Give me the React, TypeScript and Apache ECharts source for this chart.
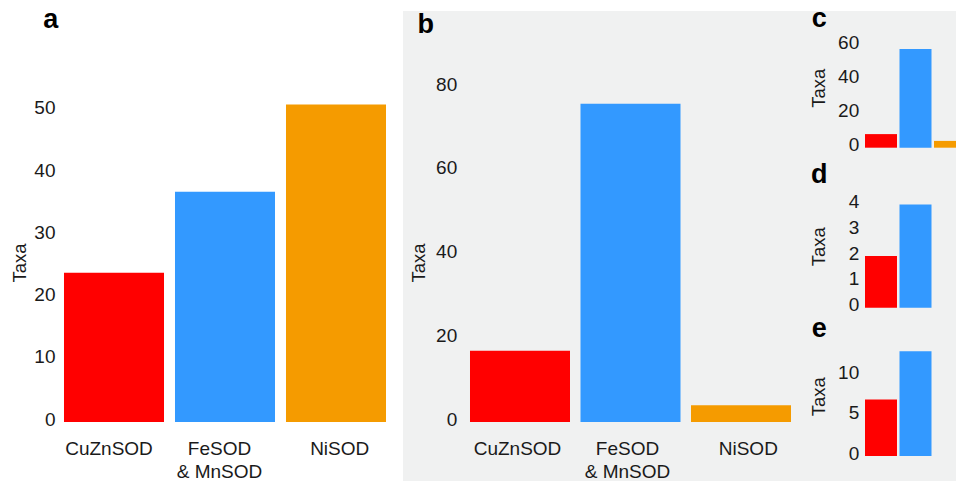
import React, { useEffect, useRef } from "react";
import * as echarts from "echarts";

// ---- data ----
const categories = ["CuZnSOD", "FeSOD\n& MnSOD", "NiSOD"];
const colors = ["#ff0000", "#3399ff", "#f59b00"];
const valuesA = [24, 37, 51];
const valuesB = [17, 76, 4];
const valuesC = [8, 58, 4];
const valuesD = [2, 4, 0];
const valuesE = [7, 13, 0];
const yAxisTitle = "Taxa";
const panelLetters = ["a", "b", "c", "d", "e"];

const FONT = "'Liberation Sans', Arial, Helvetica, sans-serif";
const TXT = "#1a1a1a";
const CHART_W = 990;

function richFor(offs: number[]) {
  const r: any = {};
  offs.forEach((o, i) => {
    r["s" + i] = {
      fontSize: 19,
      fontFamily: FONT,
      color: TXT,
      lineHeight: 23.5,
      padding: o < 0 ? [0, -2 * o, 0, 0] : [0, 0, 0, 2 * o],
    };
  });
  return r;
}

export default function App() {
  const ref = useRef<HTMLDivElement>(null);
  useEffect(() => {
    if (!ref.current) return;
    const chart = echarts.init(ref.current, undefined, { renderer: "svg" });

    const grids = [
      { left: 58.5, width: 333, top: 79.7, bottom: 56.7 },
      { left: 464.75, width: 331.5, top: 66.2, bottom: 57 },
      { left: 863.75, width: 103.5, top: 38.9, bottom: 481 - 147.7 },
      { left: 863.75, width: 103.5, top: 199.3, bottom: 481 - 307.7 },
      { left: 863.75, width: 103.5, top: 347.1, bottom: 481 - 456 },
    ];
    const yCfg = [
      { max: 55, interval: 10, margin: 3 },
      { max: 85, interval: 20, margin: 7.5 },
      { max: 64, interval: 20, margin: 4.5 },
      { max: 4.2, interval: 1, margin: 4.5 },
      { max: 13.5, interval: 5, margin: 4.5 },
    ];
    const dataSets = [valuesA, valuesB, valuesC, valuesD, valuesE];
    const gaps = ["9.9%", "9.5%", "7.25%", "7.25%", "7.25%"];
    const labelOffsets = [
      [-5, -5.5, 3.7],
      [-2.5, -3, 7.3],
    ];

    const xAxis = grids.map((_, i) => ({
      type: "category" as const,
      gridIndex: i,
      data: categories,
      axisLine: { show: false },
      axisTick: { show: false },
      splitLine: { show: false },
      axisLabel:
        i < 2
          ? {
              show: true,
              interval: 0,
              margin: 14.25,
              formatter: (v: string, idx: number) =>
                v
                  .split("\n")
                  .map((l) => `{s${idx}|${l}}`)
                  .join("\n"),
              rich: richFor(labelOffsets[i]),
            }
          : { show: false },
    }));

    const yAxis = grids.map((_, i) => ({
      type: "value" as const,
      gridIndex: i,
      min: 0,
      max: yCfg[i].max,
      interval: yCfg[i].interval,
      axisLine: { show: false },
      axisTick: { show: false },
      splitLine: { show: false },
      axisLabel: {
        margin: yCfg[i].margin,
        formatter: (v: number) =>
          Math.abs(v / yCfg[i].interval - Math.round(v / yCfg[i].interval)) < 1e-6
            ? `{v|${v}}`
            : "",
        rich: {
          v: {
            fontSize: 19,
            fontFamily: FONT,
            color: TXT,
            lineHeight: 22,
            padding: [0, 0, 6, 0],
          },
        },
      },
    }));

    const series = dataSets.map((vals, i) => ({
      type: "bar" as const,
      xAxisIndex: i,
      yAxisIndex: i,
      barCategoryGap: gaps[i],
      data: vals.map((v, k) => ({ value: v, itemStyle: { color: colors[k] } })),
      silent: true,
    }));

    const titlePos = [
      [19.5, 263],
      [418, 263],
      [818.5, 88.3],
      [818.5, 246.7],
      [818.5, 396.7],
    ];
    const letterPos = [
      [50.8, 19.3],
      [425.8, 24.3],
      [819.2, 17.7],
      [819.2, 174.3],
      [819.2, 328],
    ];

    const graphic: any[] = [
      {
        type: "rect",
        z: -10,
        shape: { x: 403, y: 11, width: CHART_W - 403, height: 470 },
        style: { fill: "#f0f1f1" },
        silent: true,
      },
    ];
    titlePos.forEach(([x, y]) => {
      graphic.push({
        type: "text",
        x,
        y,
        rotation: Math.PI / 2,
        style: {
          text: yAxisTitle,
          fontSize: 18.5,
          fontFamily: FONT,
          fill: TXT,
          align: "center",
          verticalAlign: "middle",
        },
      });
    });
    letterPos.forEach(([x, y], i) => {
      graphic.push({
        type: "text",
        x,
        y,
        style: {
          text: panelLetters[i],
          fontSize: 27,
          fontWeight: "bold",
          fontFamily: FONT,
          fill: "#000",
          align: "center",
          verticalAlign: "middle",
        },
      });
    });

    chart.setOption({
      animation: false,
      backgroundColor: "#ffffff",
      grid: grids.map((g) => ({ ...g, containLabel: false })),
      xAxis,
      yAxis,
      series,
      graphic,
    });
    return () => chart.dispose();
  }, []);
  return (
    <div
      style={{
        position: "absolute",
        left: 0,
        top: 0,
        width: 956,
        height: 481,
        overflow: "hidden",
      }}
    >
      <div ref={ref} style={{ width: CHART_W, height: 481 }} />
    </div>
  );
}
